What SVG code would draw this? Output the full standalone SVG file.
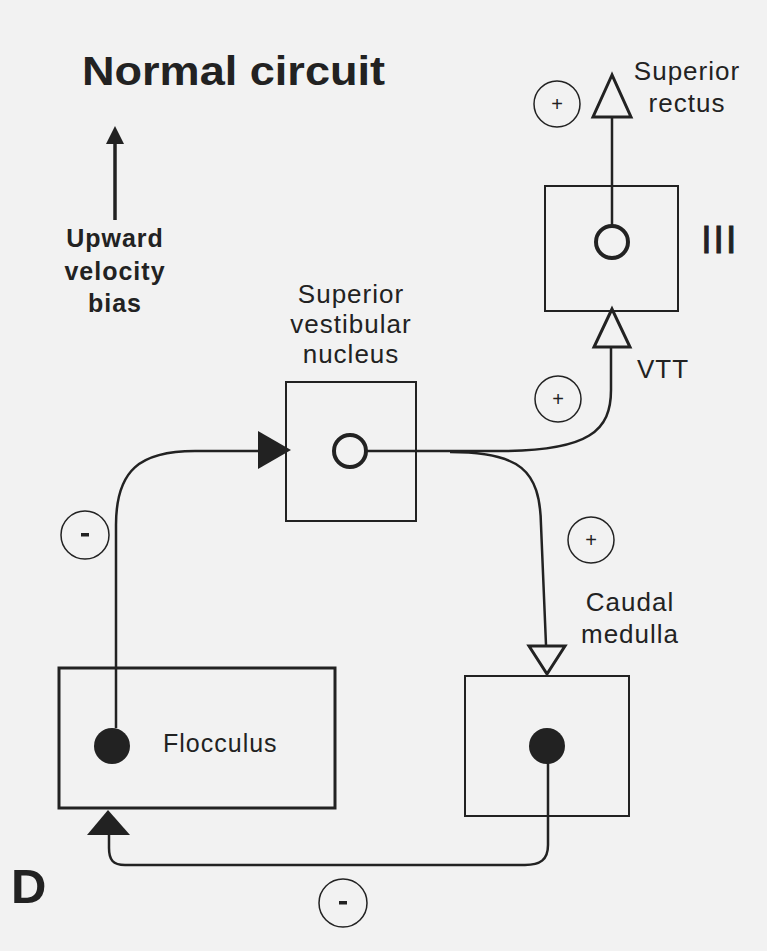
<svg xmlns="http://www.w3.org/2000/svg" width="767" height="951" viewBox="0 0 767 951">
<defs>
<style>
.lbl{font-family:"Liberation Sans",Arial,Helvetica,sans-serif;font-size:26px;fill:#222;letter-spacing:1px}
.bold{font-family:"Liberation Sans",Arial,Helvetica,sans-serif;font-weight:bold;fill:#222}
.box{fill:none;stroke:#222;stroke-width:2}
.wire{fill:none;stroke:#222;stroke-width:2.5}
.sign{fill:none;stroke:#222;stroke-width:1.5}
.signtxt{font-family:"Liberation Sans",Arial,sans-serif;font-size:20px;fill:#222;text-anchor:middle}
.open{fill:#f2f2f2;stroke:#222;stroke-width:4}
.filled{fill:#222}
.tri-open{fill:#f2f2f2;stroke:#222;stroke-width:3;stroke-linejoin:miter}
</style>
</defs>
<rect x="0" y="0" width="767" height="951" fill="#f2f2f2"/>

<g id="title">
<text class="bold" x="82" y="85" font-size="40" textLength="303" lengthAdjust="spacingAndGlyphs">Normal circuit</text>
</g>
<g id="bias">
<line x1="115" y1="220" x2="115" y2="140" stroke="#222" stroke-width="3.5"/>
<polygon points="115,126 106,144 124,144" fill="#222"/>
<text class="bold" font-size="25" letter-spacing="1" text-anchor="middle" x="115" y="247">Upward</text>
<text class="bold" font-size="25" letter-spacing="1" text-anchor="middle" x="115" y="280">velocity</text>
<text class="bold" font-size="25" letter-spacing="1" text-anchor="middle" x="115" y="312">bias</text>
</g>
<g id="panel-label">
<text class="bold" x="11" y="903" font-size="49">D</text>
</g>

<g id="connectors">
<!-- flocculus to SVN -->
<path class="wire" d="M116,728 L116,525 C116,470 140,451 195,451 L262,451"/>
<polygon points="291,450 258,431 258,469" fill="#222"/>
<!-- SVN to VTT -->
<path class="wire" d="M367,451 L500,451 C590,451 611,430 611,390 L611,347"/>
<polygon class="tri-open" points="612,309 594,347 630,347"/>
<!-- SVN to caudal medulla -->
<path class="wire" d="M450,452 C520,452 540,470 541,525 L546,645"/>
<polygon class="tri-open" points="529,646 565,646 547,674"/>
<!-- III to superior rectus -->
<path class="wire" d="M612,225 L612,117"/>
<polygon class="tri-open" points="612,75 593,117 631,117"/>
<!-- caudal medulla to flocculus -->
<path class="wire" d="M548,746 L548,845 C548,860 540,865 525,865 L125,865 C113,865 109,860 109,848 L109,834"/>
<polygon points="108,810 87,835 130,835" fill="#222"/>
</g>

<g id="sign-plus-rectus">
<circle class="sign" cx="557" cy="104" r="23"/>
<text class="signtxt" x="557" y="111">+</text>
</g>
<g id="sign-plus-vtt">
<circle class="sign" cx="558" cy="399" r="23"/>
<text class="signtxt" x="558" y="406">+</text>
</g>
<g id="sign-plus-caudal">
<circle class="sign" cx="591" cy="540" r="23"/>
<text class="signtxt" x="591" y="547">+</text>
</g>
<g id="sign-minus-left">
<circle class="sign" cx="85" cy="535" r="24"/>
<rect x="81" y="533" width="8" height="3.5" fill="#222"/>
</g>
<g id="sign-minus-bottom">
<circle class="sign" cx="343" cy="903" r="24"/>
<rect x="339" y="901" width="8" height="3.5" fill="#222"/>
</g>

<g id="node-svn">
<rect class="box" x="286" y="382" width="130" height="139"/>
<circle class="open" cx="350" cy="451" r="16"/>
<text class="lbl" text-anchor="middle" x="351" y="303">Superior</text>
<text class="lbl" text-anchor="middle" x="351" y="333">vestibular</text>
<text class="lbl" text-anchor="middle" x="351" y="363">nucleus</text>
</g>

<g id="node-III">
<rect class="box" x="545" y="186" width="133" height="125"/>
<circle class="open" cx="612" cy="242" r="16"/>
<text class="lbl" x="701" y="253" style="font-size:39px;letter-spacing:1.5px" stroke="#222" stroke-width="0.8">III</text>
</g>

<g id="label-superior-rectus">
<text class="lbl" text-anchor="middle" x="687" y="80">Superior</text>
<text class="lbl" text-anchor="middle" x="687" y="112">rectus</text>
</g>

<g id="label-vtt">
<text class="lbl" x="637" y="378">VTT</text>
</g>

<g id="node-caudal">
<rect class="box" x="465" y="676" width="164" height="140"/>
<circle class="filled" cx="547" cy="746" r="18"/>
<text class="lbl" text-anchor="middle" x="630" y="611">Caudal</text>
<text class="lbl" text-anchor="middle" x="630" y="643">medulla</text>
</g>

<g id="node-flocculus">
<rect x="59" y="668" width="276" height="140" fill="none" stroke="#222" stroke-width="3"/>
<circle class="filled" cx="112" cy="746" r="18"/>
<text class="lbl" x="163" y="752" style="font-size:25px">Flocculus</text>
</g>
</svg>
